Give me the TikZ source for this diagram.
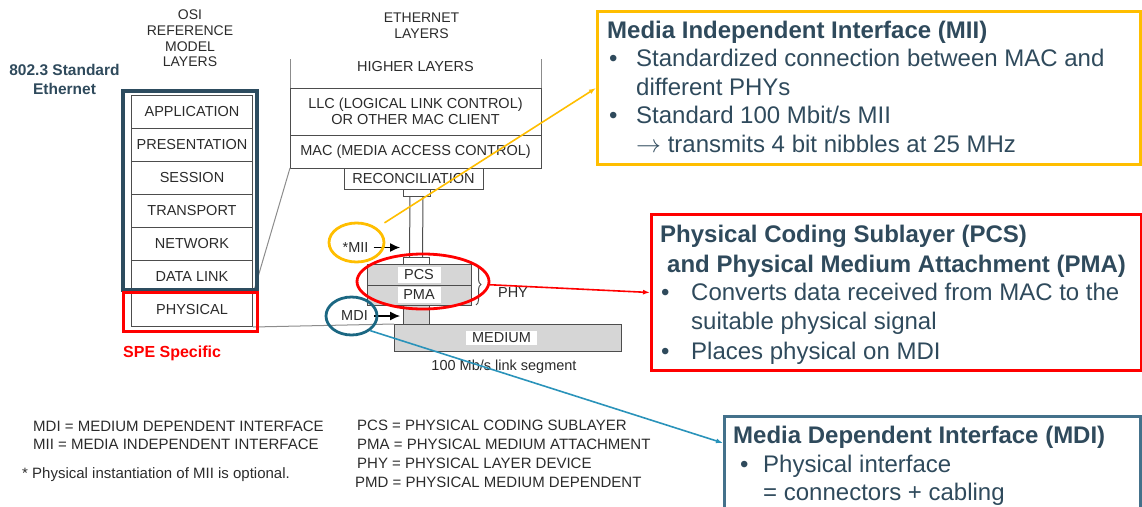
\documentclass[tikz,border=0pt]{standalone}
\usepackage{fontspec}
\setmainfont{Liberation Sans}
\usetikzlibrary{shapes.geometric,arrows.meta,decorations.pathreplacing,calc,positioning}
\definecolor{slate}{HTML}{2F4A5C}
\definecolor{osiframe}{HTML}{2D4C5F}
\definecolor{miiyellow}{HTML}{FFBE00}
\definecolor{mditeal}{HTML}{1B6782}
\definecolor{mdiline}{HTML}{2A93BA}
\definecolor{mdiframe}{HTML}{44718B}
\definecolor{linegray}{HTML}{4D4D4D}
\definecolor{labelgray}{HTML}{2B2B2B}
\definecolor{phygray}{HTML}{D6D6D6}
\definecolor{wiregray}{HTML}{8C8C8C}
\begin{document}
\begin{tikzpicture}[x=1pt,y=-1pt,
  lbl/.style={text=labelgray, inner sep=0pt, font=\fontsize{14.5}{16}\selectfont},
  layer/.style={lbl, draw=linegray, line width=1pt, minimum width=121pt, minimum height=33pt, anchor=north west},
  ethbox/.style={lbl, draw=linegray, line width=1pt, outer sep=0pt, align=center},
  phyblock/.style={draw=linegray, line width=1pt, fill=phygray, inner sep=0pt, outer sep=0pt, anchor=north west},
  stub/.style={draw=linegray, line width=1pt, inner sep=0pt, outer sep=0pt, anchor=north west},
  tag/.style={lbl, fill=white, minimum height=16pt},
  ptr/.style={-{Latex[length=10pt,width=9pt]}, line width=1.2pt, black},
  ring/.style={ellipse, draw, line width=2.8pt, inner sep=0pt},
  infobox/.style={draw, line width=3pt, inner sep=0pt, anchor=north west},
  boxtitle/.style={text=slate, font=\fontsize{24}{28}\selectfont\bfseries, anchor=base west, inner sep=0pt},
  boxtext/.style={text=slate, font=\fontsize{24}{28}\selectfont, anchor=base west, inner sep=0pt},
  legend/.style={text=labelgray, font=\fontsize{15}{18}\selectfont, anchor=base west, inner sep=0pt},
  wire/.style={draw=wiregray, line width=1pt},
  callout/.style={line width=1.6pt, -{Latex[length=7pt,width=5pt]}}
]
\useasboundingbox (0,0) rectangle (1142,506);
\clip (0,0) rectangle (1142,506);

% OSI reference model
\node[lbl, align=center, font=\fontsize{14}{15.7}\selectfont] (osihead) at (190,38.5) {OSI\\REFERENCE\\MODEL\\LAYERS};
\node[text=slate, font=\fontsize{15.5}{19.5}\selectfont\bfseries, align=center, inner sep=0pt] (stdeth) at (64.5,79.6) {802.3 Standard\\Ethernet};
\foreach \lname/\ltext [count=\i from 0] in {app/APPLICATION, pres/PRESENTATION, sess/SESSION, trans/TRANSPORT, net/NETWORK, dlink/DATA LINK, phys/PHYSICAL}
  \node[layer] (\lname) at (131,95+33*\i) {\ltext};
\node[text=red, font=\fontsize{16}{19}\selectfont\bfseries, anchor=base west, inner sep=0pt] (spe) at (123,357) {SPE Specific};

% Ethernet layers
\node[lbl, align=center, font=\fontsize{14}{16}\selectfont] (ethhead) at (421.5,26) {ETHERNET\\LAYERS};
\node[ethbox, minimum width=251pt, minimum height=47pt, anchor=north west] (llc) at (290,88) {LLC (LOGICAL LINK CONTROL)\\OR OTHER MAC CLIENT};
\node[lbl] (higher) at (415.5,67) {HIGHER LAYERS};
\draw[wire] (llc.north west) -- ++(0,-29);
\draw[wire] (llc.north east) -- ++(0,-29);
\node[ethbox, minimum width=251pt, minimum height=33pt, below=0pt of llc] (mac) {MAC (MEDIA ACCESS CONTROL)};
\node[ethbox, minimum width=139pt, minimum height=21pt, anchor=north west] (recon) at (344,168) {RECONCILIATION};
\node[stub, minimum width=27pt, minimum height=7pt] (reconstub) at (403,189) {};
\node[phyblock, minimum width=104pt, minimum height=21pt] (pcs) at (367,264) {};
\node[phyblock, minimum width=104pt, minimum height=20pt, below=0pt of pcs] (pma) {};
\node[stub, minimum width=26pt, minimum height=7pt, anchor=south west] (pcsstub) at (403,264) {};
\draw[linegray, line width=1pt] ($(reconstub.south)+(-6.5,0)$) -- ($(pcsstub.north)+(-6.5,0)$);
\draw[linegray, line width=1pt] ($(reconstub.south)+(6.5,0)$) -- ($(pcsstub.north)+(6.5,0)$);
\node[tag, minimum width=43pt] (pcstag) at (pcs) {PCS};
\node[tag, minimum width=43pt] (pmatag) at (pma) {PMA};
\node[phyblock, minimum width=26pt, minimum height=19pt] (mdistub) at (403,305) {};
\node[phyblock, minimum width=227pt, minimum height=27pt] (medium) at (394,324) {};
\node[tag, minimum width=71pt, minimum height=14pt] (mediumtag) at ([xshift=-6pt]medium.center) {MEDIUM};
\node[lbl] (segment) at (504,367) {100 Mb/s link segment};
\draw[linegray, line width=1pt, decorate, decoration={brace, amplitude=5pt}] ([xshift=5pt]pcs.north east) -- ([xshift=5pt]pma.south east);
\node[lbl] (phylabel) at (513,293) {PHY};
\node[lbl] (miitext) at (355.5,247.5) {*MII};
\draw[ptr, shorten >=3pt] ([xshift=5pt]miitext.east) -- (miitext.east -| pcsstub.west);
\node[lbl] (mditext) at (354.5,316) {MDI};
\draw[ptr, shorten >=3pt] ([xshift=6pt]mditext.east) -- (mditext.east -| mdistub.west);

% links between the two stacks
\draw[wire] (mac.south west) -- (dlink.south east);
\draw[wire] (phys.south east) -- (medium.north west);
\draw[osiframe, line width=3.5pt] (123,91) rectangle (257,290);
\draw[red, line width=3pt] (123,292) rectangle (257,331);

% highlight rings
\node[ring, draw=miiyellow, minimum width=55pt, minimum height=39pt] (miiring) at (356.5,242.5) {};
\node[ring, draw=red, minimum width=132pt, minimum height=55pt] (phyring) at (423,281.5) {};
\node[ring, draw=mditeal, minimum width=51pt, minimum height=38pt] (mdiring) at (351.5,316) {};

% MII box
\node[infobox, draw=miiyellow, minimum width=543pt, minimum height=153pt] (miibox) at (596,10) {};
\node[boxtitle] at (607,38) {Media Independent Interface (MII)};
\node[boxtext] at (609,66.5) {•};
\node[boxtext] at (636,66.5) {Standardized connection between MAC and};
\node[boxtext] at (636,95) {different PHYs};
\node[boxtext] at (609,123.5) {•};
\node[boxtext] at (636,123.5) {Standard 100 Mbit/s MII};
\node[boxtext] at (636,152) {$\rightarrow$ transmits 4 bit nibbles at 25 MHz};

% PCS / PMA box
\node[infobox, draw=red, minimum width=490pt, minimum height=156pt] (pcsbox) at (650,213) {};
\node[boxtitle] at (660,242) {Physical Coding Sublayer (PCS)};
\node[boxtitle] at (667,272) {and Physical Medium Attachment (PMA)};
\node[boxtext] at (661,300) {•};
\node[boxtext] at (691,300) {Converts data received from MAC to the};
\node[boxtext] at (691,329) {suitable physical signal};
\node[boxtext] at (661,359) {•};
\node[boxtext] at (691,359) {Places physical on MDI};

% MDI box
\node[infobox, draw=mdiframe, minimum width=416pt, minimum height=120pt] (mdibox) at (723,415) {};
\node[boxtitle] at (733,443) {Media Dependent Interface (MDI)};
\node[boxtext] at (740,472) {•};
\node[boxtext] at (763,472) {Physical interface};
\node[boxtext] at (763,500) {= connectors + cabling};
\coordinate (mditip) at ($(mdibox.north west)+(0,28)$);

% callouts
\draw[callout, miiyellow, shorten <=9pt] (miiring.36) -- (miibox.west);
\draw[callout, red] (phyring) -- (pcsbox.west);
\draw[callout, mdiline] (mdiring.-38) -- (mditip);

% legend
\node[legend] at (33,431) {MDI = MEDIUM DEPENDENT INTERFACE};
\node[legend] at (33,449) {MII = MEDIA INDEPENDENT INTERFACE};
\node[legend] at (22,478) {* Physical instantiation of MII is optional.};
\node[legend] at (357,430) {PCS = PHYSICAL CODING SUBLAYER};
\node[legend] at (357,449) {PMA = PHYSICAL MEDIUM ATTACHMENT};
\node[legend] at (357,468) {PHY = PHYSICAL LAYER DEVICE};
\node[legend] at (355,487) {PMD = PHYSICAL MEDIUM DEPENDENT};
\end{tikzpicture}
\end{document}
